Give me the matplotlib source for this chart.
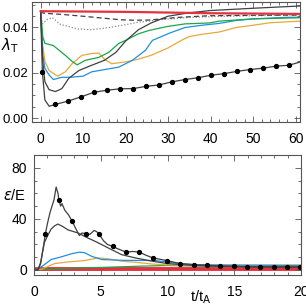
import matplotlib
matplotlib.use("Agg")
import matplotlib.pyplot as plt
from matplotlib.ticker import MultipleLocator, FormatStrFormatter

plt.rcParams['font.family'] = ['Liberation Sans', 'DejaVu Sans']

# ---------------- top panel data (lambda_T vs t) ----------------
red_t = [0, 20, 40, 61]
red_v = [0.0472, 0.0469, 0.0463, 0.0460]

dash_t = [0, 0.3, 0.8, 5.5, 11, 16.5, 19, 22, 25.5, 32.6, 39.7, 50, 61]
dash_v = [0.0472, 0.0466, 0.0463, 0.0457, 0.0448, 0.0438, 0.0434, 0.0432, 0.0433, 0.0445, 0.0452, 0.0454, 0.0455]

dot_t = [0, 0.4, 1.6, 2.8, 3.6, 4.7, 7.1, 8.6, 11.8, 15.8, 19, 23, 27.9, 34, 39.7, 50, 61]
dot_v = [0.0472, 0.0416, 0.0436, 0.0443, 0.0430, 0.0413, 0.0402, 0.0394, 0.0390, 0.0399, 0.0409, 0.0423, 0.0434, 0.0443, 0.0448, 0.0452, 0.0455]

gray_t = [0, 0.5, 1, 2, 3.5, 5, 6.6, 9, 12, 15, 17.7, 20, 23, 26, 30, 35, 40, 50, 61]
gray_v = [0.0472, 0.025, 0.016, 0.0125, 0.0117, 0.013, 0.0175, 0.021, 0.0233, 0.0255, 0.029, 0.034, 0.039, 0.042, 0.0450, 0.0465, 0.0475, 0.0485, 0.0495]

blk_t = [0, 0.4, 1, 2, 3.45, 6.5, 9.55, 12.6, 15.65, 18.7, 21.75, 24.8, 27.85, 30.9, 33.95, 37.0, 40.05, 43.1, 46.15, 49.2, 52.25, 55.3, 58.35, 61]
blk_v = [0.0472, 0.0205, 0.008, 0.0052, 0.006, 0.0075, 0.0094, 0.0114, 0.0123, 0.0129, 0.013, 0.014, 0.0146, 0.016, 0.017, 0.0178, 0.0189, 0.0196, 0.0206, 0.0214, 0.022, 0.0229, 0.0233, 0.0247]
blk_mk_t = [0.4, 3.45, 6.5, 9.55, 12.6, 15.65, 18.7, 21.75, 24.8, 27.85, 30.9, 33.95, 37.0, 40.05, 43.1, 46.15, 49.2, 52.25, 55.3, 58.35]
blk_mk_v = [0.0205, 0.006, 0.0075, 0.0094, 0.0114, 0.0123, 0.0129, 0.013, 0.014, 0.0146, 0.016, 0.017, 0.0178, 0.0189, 0.0196, 0.0206, 0.0214, 0.022, 0.0229, 0.0233]

blue_t = [0, 0.5, 1, 2, 3, 5, 7, 10, 12, 15, 18.4, 21.6, 24.7, 26.3, 30.3, 34, 38, 42, 46, 50, 58, 61]
blue_v = [0.0472, 0.028, 0.022, 0.019, 0.017, 0.018, 0.018, 0.0185, 0.0204, 0.0214, 0.0225, 0.0255, 0.030, 0.0343, 0.0375, 0.040, 0.041, 0.0418, 0.0431, 0.0438, 0.0445, 0.0445]

green_t = [0, 0.5, 1, 3, 4.3, 5.8, 7.4, 8.6, 10.5, 13.7, 16, 18.4, 20, 23, 25.5, 30, 34, 39.7, 42, 50, 61]
green_v = [0.0472, 0.036, 0.033, 0.032, 0.030, 0.0277, 0.025, 0.0235, 0.0255, 0.0268, 0.029, 0.033, 0.0343, 0.0372, 0.0387, 0.0405, 0.0416, 0.042, 0.0428, 0.0438, 0.0443]

orange_t = [0, 0.5, 1, 2, 4, 5.8, 7.4, 9.7, 12, 13.7, 15, 16.7, 20, 23, 26, 30, 33.4, 35, 38, 42, 46, 50, 54, 61]
orange_v = [0.0472, 0.032, 0.025, 0.021, 0.0185, 0.0204, 0.024, 0.0277, 0.0285, 0.0287, 0.026, 0.024, 0.0248, 0.026, 0.0277, 0.031, 0.0346, 0.036, 0.037, 0.038, 0.040, 0.041, 0.0421, 0.0428]

# ---------------- bottom panel data (eps/E vs t) ----------------
b_blk_t = [0, 0.3, 0.5, 0.7, 0.85, 1.0, 1.2, 1.5, 1.66, 1.8, 1.86, 2.0, 2.1, 2.3, 2.6, 2.87, 3.1, 3.4, 3.6, 3.87, 4.2, 4.5, 4.7, 4.88, 5.2, 5.5, 5.89, 6.3, 6.89, 7.4, 7.9, 8.4, 8.9, 9.4, 9.94, 10.94, 11.95, 12.95, 13.95, 15, 16, 17, 18, 19, 20]
b_blk_v = [0, 0, 5, 18, 28, 36, 45, 55, 65, 60, 55, 50, 52, 47, 43, 38, 33, 27, 29, 28.5, 28, 31, 30, 28, 23, 20, 18.5, 16.5, 14, 14.5, 14, 11.5, 9.5, 8.5, 7.4, 5, 4.2, 3.7, 3, 2.8, 2.6, 2.5, 2.4, 2.3, 2.2]
b_mk_t = [0.85, 1.86, 2.87, 3.87, 4.88, 5.89, 6.89, 7.9, 8.9, 9.94, 10.94, 11.95, 12.95, 13.95, 14.95, 15.95, 16.95, 17.95, 18.95, 19.95]
b_mk_v = [28, 55, 38, 28.5, 28, 18.5, 14, 14, 9.5, 7.4, 5, 4.2, 3.7, 3, 2.8, 2.6, 2.5, 2.4, 2.3, 2.2]

b_gray_t = [0, 0.3, 0.5, 0.78, 1.03, 1.28, 1.53, 1.79, 2.17, 2.55, 3.3, 4.05, 4.55, 5.05, 5.8, 6.57, 7.57, 8.8, 10, 12, 14, 16, 20]
b_gray_v = [0, 0, 6, 21.5, 27, 32, 34.5, 36, 34, 31.4, 29, 25, 22.6, 20, 16, 12, 9.5, 7, 5, 3.5, 3, 2.5, 2.3]

b_blue_t = [0, 0.2, 0.78, 1.28, 2.05, 2.8, 3.4, 3.8, 4.3, 5.05, 6.6, 9.1, 10.5, 12, 15, 20]
b_blue_v = [0, 0, 4.2, 8.2, 10.3, 12.7, 14, 13.5, 10.8, 8.2, 7.6, 7.4, 5.5, 4.2, 3.8, 3.5]

b_orange_t = [0, 0.55, 1.53, 2.55, 3.8, 4.8, 5.55, 6.57, 7.57, 8.8, 10, 12, 15, 20]
b_orange_v = [0, 0.5, 5, 6.3, 7.4, 9.5, 8.8, 6.9, 6.1, 4.7, 4, 3.5, 3.8, 4]

b_green_t = [0, 1, 3, 5, 8, 10, 13, 16, 20]
b_green_v = [0, 0.5, 1.5, 2, 3, 3.5, 3, 2.5, 2.5]

b_red_t = [0, 20]
b_red_v = [0.5, 0.5]

top_xticks = [0, 10, 20, 30, 40, 50, 60]
top_yticks = [0.00, 0.02, 0.04]
bot_xticks = [0, 5, 10, 15, 20]
bot_yticks = [0, 40, 80]

RED = '#e5303f'
GREEN = '#1aa64a'
BLUE = '#1f8fe0'
ORANGE = '#e8a83a'
DGRAY = '#404040'
LGRAY = '#8a8a8a'

fig = plt.figure(figsize=(3.06, 3.06), dpi=100)
ax1 = fig.add_axes([0.105, 0.601, 0.875, 0.392])
ax2 = fig.add_axes([0.111, 0.101, 0.873, 0.392])

lw = 0.9
ax1.plot(dot_t, dot_v, color=LGRAY, lw=lw, ls=(0, (1, 1.5)))
ax1.plot(dash_t, dash_v, color=DGRAY, lw=lw, ls=(0, (4, 2.5)))
ax1.plot(orange_t, orange_v, color=ORANGE, lw=lw)
ax1.plot(blue_t, blue_v, color=BLUE, lw=lw)
ax1.plot(green_t, green_v, color=GREEN, lw=lw)
ax1.plot(gray_t, gray_v, color=DGRAY, lw=lw)
ax1.plot(blk_t, blk_v, color=DGRAY, lw=lw)
ax1.plot(blk_mk_t, blk_mk_v, ls='none', marker='o', ms=2.8, color='black')
ax1.plot(red_t, red_v, color=RED, lw=1.6)

ax2.plot(b_red_t, b_red_v, color=RED, lw=2.8, zorder=1)
ax2.plot(b_green_t, b_green_v, color=GREEN, lw=lw)
ax2.plot(b_orange_t, b_orange_v, color=ORANGE, lw=lw)
ax2.plot(b_blue_t, b_blue_v, color=BLUE, lw=lw)
ax2.plot(b_gray_t, b_gray_v, color=DGRAY, lw=lw)
ax2.plot(b_blk_t, b_blk_v, color=DGRAY, lw=lw)
ax2.plot(b_mk_t, b_mk_v, ls='none', marker='o', ms=2.8, color='black')

ax1.set_xlim(-2, 61)
ax1.set_ylim(-0.0018, 0.0512)
ax1.set_xticks(top_xticks)
ax1.set_yticks(top_yticks)
ax1.yaxis.set_major_formatter(FormatStrFormatter('%.2f'))
ax1.xaxis.set_minor_locator(MultipleLocator(2))
ax1.yaxis.set_minor_locator(MultipleLocator(0.005))

ax2.set_xlim(0, 20)
ax2.set_ylim(-4, 90)
ax2.set_xticks(bot_xticks)
ax2.set_yticks(bot_yticks)
ax2.xaxis.set_minor_locator(MultipleLocator(1))
ax2.yaxis.set_minor_locator(MultipleLocator(10))

for ax in (ax1, ax2):
    ax.tick_params(which='both', direction='in', top=True, right=True,
                   labelsize=10, pad=7, width=0.6, color='#555555')
    ax.tick_params(which='major', length=4)
    ax.tick_params(which='minor', length=2)
    for s in ax.spines.values():
        s.set_linewidth(0.8)
        s.set_color('#555555')
ax1.tick_params(axis='y', pad=2.5, labelsize=9.5)
ax2.tick_params(axis='y', pad=5)

fig.text(10/306, 1-46/306, r'$\lambda_{\mathrm{T}}$', fontsize=11, ha='center', va='center')
fig.text(15/306, 1-196/306, r'$\epsilon$/E', fontsize=10.5, ha='center', va='center')
fig.text(201/306, 1-297/306, r't/t$_{\mathrm{A}}$', fontsize=10.5, ha='center', va='center')

fig.savefig('out.png', dpi=100)
